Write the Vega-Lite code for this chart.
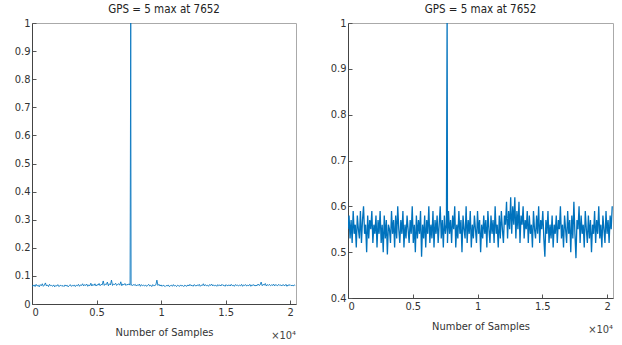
{
  "$schema": "https://vega.github.io/schema/vega-lite/v6.json",
  "background": "white",
  "padding": {"left": 13, "top": 3, "right": 5, "bottom": 5},
  "spacing": 52,
  "bounds": "flush",
  "config": {
    "font": "DejaVu Sans Condensed",
    "view": {"stroke": "#aaaaaa", "strokeWidth": 1},
    "axis": {"labelFont": "DejaVu Sans Condensed", "labelFontSize": 11, "labelColor": "#333333", "titleFont": "DejaVu Sans Condensed", "titleFontSize": 11, "titleFontWeight": "normal", "titleColor": "#333333", "grid": false, "tickSize": -4, "tickColor": "#555555", "domainColor": "#444444", "labelOverlap": false, "labelPadding": 6},
    "title": {"font": "DejaVu Sans Condensed", "fontSize": 11.5, "fontWeight": "normal", "color": "#222222", "offset": 2}
  },
  "datasets": {
    "sig": [
{"x":0,"a":0.066,"b":0.55},{"x":80,"a":0.063,"b":0.58},{"x":160,"a":0.068,"b":0.53},{"x":240,"a":0.062,"b":0.57},{"x":320,"a":0.070,"b":0.52},{"x":400,"a":0.064,"b":0.59},{"x":480,"a":0.067,"b":0.54},{"x":560,"a":0.061,"b":0.56},{"x":640,"a":0.069,"b":0.51},{"x":720,"a":0.065,"b":0.58},
{"x":800,"a":0.072,"b":0.55},{"x":880,"a":0.063,"b":0.53},{"x":960,"a":0.067,"b":0.59},{"x":1040,"a":0.075,"b":0.52},{"x":1120,"a":0.064,"b":0.57},{"x":1200,"a":0.068,"b":0.60},{"x":1280,"a":0.062,"b":0.54},{"x":1360,"a":0.070,"b":0.56},{"x":1440,"a":0.065,"b":0.50},{"x":1520,"a":0.066,"b":0.58},
{"x":1600,"a":0.063,"b":0.53},{"x":1680,"a":0.068,"b":0.57},{"x":1760,"a":0.061,"b":0.55},{"x":1840,"a":0.066,"b":0.59},{"x":1920,"a":0.064,"b":0.52},{"x":2000,"a":0.069,"b":0.56},{"x":2080,"a":0.062,"b":0.54},{"x":2160,"a":0.065,"b":0.58},{"x":2240,"a":0.067,"b":0.51},{"x":2320,"a":0.063,"b":0.57},
{"x":2400,"a":0.066,"b":0.54},{"x":2480,"a":0.062,"b":0.59},{"x":2560,"a":0.068,"b":0.52},{"x":2640,"a":0.064,"b":0.56},{"x":2720,"a":0.067,"b":0.50},{"x":2800,"a":0.061,"b":0.58},{"x":2880,"a":0.065,"b":0.53},{"x":2960,"a":0.069,"b":0.57},{"x":3040,"a":0.063,"b":0.495},{"x":3120,"a":0.066,"b":0.56},
{"x":3200,"a":0.064,"b":0.55},{"x":3280,"a":0.068,"b":0.52},{"x":3360,"a":0.062,"b":0.59},{"x":3440,"a":0.067,"b":0.54},{"x":3520,"a":0.065,"b":0.57},{"x":3600,"a":0.070,"b":0.51},{"x":3680,"a":0.063,"b":0.58},{"x":3760,"a":0.068,"b":0.53},{"x":3840,"a":0.066,"b":0.60},{"x":3920,"a":0.072,"b":0.55},
{"x":4000,"a":0.064,"b":0.52},{"x":4080,"a":0.069,"b":0.57},{"x":4160,"a":0.066,"b":0.54},{"x":4240,"a":0.071,"b":0.59},{"x":4320,"a":0.063,"b":0.51},{"x":4400,"a":0.068,"b":0.56},{"x":4480,"a":0.065,"b":0.53},{"x":4560,"a":0.074,"b":0.58},{"x":4640,"a":0.064,"b":0.55},{"x":4720,"a":0.070,"b":0.52},
{"x":4800,"a":0.066,"b":0.57},{"x":4880,"a":0.072,"b":0.54},{"x":4960,"a":0.064,"b":0.60},{"x":5040,"a":0.069,"b":0.52},{"x":5120,"a":0.067,"b":0.56},{"x":5200,"a":0.073,"b":0.50},{"x":5280,"a":0.065,"b":0.58},{"x":5360,"a":0.070,"b":0.53},{"x":5440,"a":0.068,"b":0.57},{"x":5520,"a":0.082,"b":0.54},
{"x":5600,"a":0.066,"b":0.59},{"x":5680,"a":0.071,"b":0.49},{"x":5760,"a":0.069,"b":0.56},{"x":5840,"a":0.078,"b":0.53},{"x":5920,"a":0.065,"b":0.58},{"x":6000,"a":0.072,"b":0.51},{"x":6080,"a":0.068,"b":0.57},{"x":6160,"a":0.085,"b":0.54},{"x":6240,"a":0.066,"b":0.60},{"x":6320,"a":0.071,"b":0.52},
{"x":6400,"a":0.069,"b":0.56},{"x":6480,"a":0.074,"b":0.53},{"x":6560,"a":0.066,"b":0.59},{"x":6640,"a":0.070,"b":0.51},{"x":6720,"a":0.072,"b":0.57},{"x":6800,"a":0.067,"b":0.54},{"x":6880,"a":0.079,"b":0.58},{"x":6960,"a":0.065,"b":0.52},{"x":7040,"a":0.071,"b":0.56},{"x":7120,"a":0.068,"b":0.60},
{"x":7200,"a":0.073,"b":0.53},{"x":7280,"a":0.066,"b":0.57},{"x":7360,"a":0.070,"b":0.51},{"x":7440,"a":0.068,"b":0.58},{"x":7520,"a":0.072,"b":0.54},{"x":7600,"a":0.067,"b":0.56},{"x":7652,"a":1.0,"b":1.0},{"x":7680,"a":0.071,"b":0.52},{"x":7760,"a":0.065,"b":0.59},{"x":7840,"a":0.069,"b":0.54},{"x":7920,"a":0.067,"b":0.57},
{"x":8000,"a":0.070,"b":0.52},{"x":8080,"a":0.064,"b":0.58},{"x":8160,"a":0.068,"b":0.55},{"x":8240,"a":0.066,"b":0.60},{"x":8320,"a":0.071,"b":0.51},{"x":8400,"a":0.063,"b":0.56},{"x":8480,"a":0.069,"b":0.53},{"x":8560,"a":0.065,"b":0.59},{"x":8640,"a":0.067,"b":0.54},{"x":8720,"a":0.064,"b":0.57},
{"x":8800,"a":0.068,"b":0.50},{"x":8880,"a":0.063,"b":0.58},{"x":8960,"a":0.066,"b":0.55},{"x":9040,"a":0.070,"b":0.53},{"x":9120,"a":0.064,"b":0.60},{"x":9200,"a":0.067,"b":0.52},{"x":9280,"a":0.062,"b":0.57},{"x":9360,"a":0.069,"b":0.54},{"x":9440,"a":0.065,"b":0.59},{"x":9520,"a":0.066,"b":0.51},
{"x":9600,"a":0.068,"b":0.56},{"x":9680,"a":0.085,"b":0.53},{"x":9760,"a":0.066,"b":0.58},{"x":9840,"a":0.070,"b":0.55},{"x":9920,"a":0.064,"b":0.52},{"x":10000,"a":0.068,"b":0.59},{"x":10080,"a":0.063,"b":0.54},{"x":10160,"a":0.067,"b":0.57},{"x":10240,"a":0.065,"b":0.50},{"x":10320,"a":0.062,"b":0.56},
{"x":10400,"a":0.066,"b":0.53},{"x":10480,"a":0.064,"b":0.58},{"x":10560,"a":0.068,"b":0.54},{"x":10640,"a":0.062,"b":0.57},{"x":10720,"a":0.065,"b":0.51},{"x":10800,"a":0.067,"b":0.59},{"x":10880,"a":0.063,"b":0.55},{"x":10960,"a":0.069,"b":0.52},{"x":11040,"a":0.064,"b":0.58},{"x":11120,"a":0.066,"b":0.54},
{"x":11200,"a":0.062,"b":0.57},{"x":11280,"a":0.067,"b":0.52},{"x":11360,"a":0.065,"b":0.60},{"x":11440,"a":0.063,"b":0.54},{"x":11520,"a":0.068,"b":0.56},{"x":11600,"a":0.064,"b":0.51},{"x":11680,"a":0.066,"b":0.58},{"x":11760,"a":0.062,"b":0.53},{"x":11840,"a":0.067,"b":0.59},{"x":11920,"a":0.065,"b":0.55},
{"x":12000,"a":0.063,"b":0.52},{"x":12080,"a":0.068,"b":0.58},{"x":12160,"a":0.064,"b":0.56},{"x":12240,"a":0.070,"b":0.61},{"x":12320,"a":0.065,"b":0.53},{"x":12400,"a":0.067,"b":0.59},{"x":12480,"a":0.063,"b":0.55},{"x":12560,"a":0.069,"b":0.62},{"x":12640,"a":0.066,"b":0.54},{"x":12720,"a":0.064,"b":0.60},
{"x":12800,"a":0.068,"b":0.56},{"x":12880,"a":0.065,"b":0.62},{"x":12960,"a":0.070,"b":0.53},{"x":13040,"a":0.063,"b":0.59},{"x":13120,"a":0.067,"b":0.55},{"x":13200,"a":0.066,"b":0.61},{"x":13280,"a":0.072,"b":0.52},{"x":13360,"a":0.064,"b":0.58},{"x":13440,"a":0.069,"b":0.56},{"x":13520,"a":0.065,"b":0.60},
{"x":13600,"a":0.067,"b":0.53},{"x":13680,"a":0.063,"b":0.57},{"x":13760,"a":0.069,"b":0.55},{"x":13840,"a":0.066,"b":0.59},{"x":13920,"a":0.071,"b":0.52},{"x":14000,"a":0.064,"b":0.58},{"x":14080,"a":0.068,"b":0.54},{"x":14160,"a":0.065,"b":0.56},{"x":14240,"a":0.067,"b":0.51},{"x":14320,"a":0.063,"b":0.59},
{"x":14400,"a":0.069,"b":0.55},{"x":14480,"a":0.065,"b":0.53},{"x":14560,"a":0.068,"b":0.58},{"x":14640,"a":0.064,"b":0.54},{"x":14720,"a":0.070,"b":0.60},{"x":14800,"a":0.066,"b":0.52},{"x":14880,"a":0.067,"b":0.57},{"x":14960,"a":0.063,"b":0.55},{"x":15040,"a":0.069,"b":0.59},{"x":15120,"a":0.065,"b":0.53},
{"x":15200,"a":0.066,"b":0.49},{"x":15280,"a":0.068,"b":0.57},{"x":15360,"a":0.064,"b":0.54},{"x":15440,"a":0.070,"b":0.59},{"x":15520,"a":0.065,"b":0.52},{"x":15600,"a":0.067,"b":0.56},{"x":15680,"a":0.063,"b":0.53},{"x":15760,"a":0.069,"b":0.58},{"x":15840,"a":0.066,"b":0.51},{"x":15920,"a":0.068,"b":0.56},
{"x":16000,"a":0.064,"b":0.54},{"x":16080,"a":0.067,"b":0.58},{"x":16160,"a":0.065,"b":0.52},{"x":16240,"a":0.070,"b":0.57},{"x":16320,"a":0.063,"b":0.55},{"x":16400,"a":0.068,"b":0.60},{"x":16480,"a":0.066,"b":0.53},{"x":16560,"a":0.069,"b":0.56},{"x":16640,"a":0.064,"b":0.51},{"x":16720,"a":0.067,"b":0.58},
{"x":16800,"a":0.065,"b":0.55},{"x":16880,"a":0.070,"b":0.52},{"x":16960,"a":0.063,"b":0.59},{"x":17040,"a":0.068,"b":0.54},{"x":17120,"a":0.066,"b":0.57},{"x":17200,"a":0.069,"b":0.50},{"x":17280,"a":0.064,"b":0.58},{"x":17360,"a":0.067,"b":0.53},{"x":17440,"a":0.065,"b":0.61},{"x":17520,"a":0.071,"b":0.54},
{"x":17600,"a":0.066,"b":0.487},{"x":17680,"a":0.068,"b":0.57},{"x":17760,"a":0.078,"b":0.55},{"x":17840,"a":0.065,"b":0.60},{"x":17920,"a":0.070,"b":0.52},{"x":18000,"a":0.067,"b":0.58},{"x":18080,"a":0.073,"b":0.54},{"x":18160,"a":0.064,"b":0.56},{"x":18240,"a":0.069,"b":0.51},{"x":18320,"a":0.066,"b":0.59},
{"x":18400,"a":0.070,"b":0.55},{"x":18480,"a":0.065,"b":0.52},{"x":18560,"a":0.068,"b":0.58},{"x":18640,"a":0.066,"b":0.53},{"x":18720,"a":0.071,"b":0.57},{"x":18800,"a":0.064,"b":0.50},{"x":18880,"a":0.069,"b":0.56},{"x":18960,"a":0.067,"b":0.54},{"x":19040,"a":0.065,"b":0.59},{"x":19120,"a":0.070,"b":0.52},
{"x":19200,"a":0.066,"b":0.57},{"x":19280,"a":0.068,"b":0.54},{"x":19360,"a":0.064,"b":0.60},{"x":19440,"a":0.069,"b":0.53},{"x":19520,"a":0.067,"b":0.56},{"x":19600,"a":0.065,"b":0.51},{"x":19680,"a":0.070,"b":0.58},{"x":19760,"a":0.063,"b":0.55},{"x":19840,"a":0.068,"b":0.52},{"x":19920,"a":0.066,"b":0.59},
{"x":20000,"a":0.069,"b":0.54},{"x":20080,"a":0.065,"b":0.57},{"x":20160,"a":0.067,"b":0.52},{"x":20240,"a":0.064,"b":0.58},{"x":20320,"a":0.068,"b":0.55},{"x":20400,"a":0.066,"b":0.60}
    ],
    "exp": [{"t": "×10⁴", "x": 20460, "a": 0, "b": 0.4}]
  },
  "hconcat": [
    {
      "width": 264,
      "height": 281,
      "title": "GPS = 5 max at 7652",
      "encoding": {
        "x": {"field": "x", "type": "quantitative", "scale": {"domain": [0, 20460], "nice": false}, "axis": {"title": "Number of Samples", "values": [0, 5000, 10000, 15000, 20000], "labelExpr": "format(datum.value / 10000, '~g')", "titlePadding": 9}},
        "y": {"field": "a", "type": "quantitative", "scale": {"domain": [0, 1], "nice": false}, "axis": {"title": null, "values": [0, 0.1, 0.2, 0.3, 0.4, 0.5, 0.6, 0.7, 0.8, 0.9, 1], "labelExpr": "format(datum.value, '~g')"}}
      },
      "layer": [
        {
          "data": {"name": "sig"},
          "mark": {"type": "line", "color": "#0072BD", "strokeWidth": 1, "opacity": 0.85}
        },
        {
          "data": {"name": "exp"},
          "mark": {"type": "text", "align": "right", "baseline": "top", "fontSize": 11, "color": "#444444", "font": "DejaVu Sans Condensed", "dy": 26},
          "encoding": {"text": {"field": "t"}}
        }
      ]
    },
    {
      "width": 265,
      "height": 275,
      "title": "GPS = 5 max at 7652",
      "encoding": {
        "x": {"field": "x", "type": "quantitative", "scale": {"domain": [0, 20460], "nice": false}, "axis": {"title": "Number of Samples", "values": [0, 5000, 10000, 15000, 20000], "labelExpr": "format(datum.value / 10000, '~g')", "titlePadding": 9}},
        "y": {"field": "b", "type": "quantitative", "scale": {"domain": [0.4, 1], "nice": false, "zero": false}, "axis": {"title": null, "values": [0.4, 0.5, 0.6, 0.7, 0.8, 0.9, 1], "labelExpr": "format(datum.value, '~g')"}}
      },
      "layer": [
        {
          "data": {"name": "sig"},
          "mark": {"type": "line", "color": "#0072BD", "strokeWidth": 1.3, "clip": true}
        },
        {
          "data": {"name": "exp"},
          "mark": {"type": "text", "align": "right", "baseline": "top", "fontSize": 11, "color": "#444444", "font": "DejaVu Sans Condensed", "dy": 26},
          "encoding": {"text": {"field": "t"}}
        }
      ]
    }
  ]
}
